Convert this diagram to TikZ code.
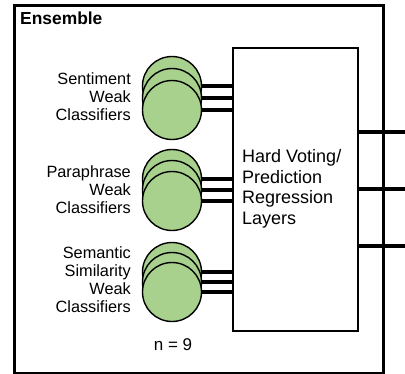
\documentclass[tikz,border=0pt]{standalone}
\usepackage{fontspec}
\setmainfont{Liberation Sans}
\usetikzlibrary{backgrounds,positioning}
\definecolor{leafgreen}{HTML}{A9D18E}
\tikzset{
  clf/.style={draw, circle, line width=1.4pt, fill=leafgreen, minimum size=59pt, inner sep=0pt},
  wire/.style={line width=4.5pt},
  lbl/.style={align=right, anchor=east, inner sep=0pt, font=\fontsize{16.3}{18}\selectfont},
}

\begin{document}
\begin{tikzpicture}[x=1pt,y=-1pt]
      \useasboundingbox (0,0) rectangle (405,373);
      \node[draw, line width=2.5pt, anchor=north west, inner sep=0pt, minimum width=369pt, minimum height=368pt] (ens) at (13,4) {};
      \node[anchor=base west, inner sep=0pt, font=\bfseries\fontsize{17.4}{20}\selectfont] (title) at (20,24) {Ensemble};

      \node[draw, line width=1.5pt, anchor=north west, inner sep=0pt, minimum width=125pt, minimum height=283pt] (box) at (232,47) {};
      \node[anchor=west, align=left, inner sep=0pt, font=\fontsize{18}{20.5}\selectfont] (vote) at (242,189) {Hard Voting/\\Prediction\\Regression\\Layers};

      % sentiment group
      \node[lbl] (senti) at (131,97) {Sentiment\\Weak\\Classifiers};
      \node[clf] (s1) at (172,86) {};
      \node[clf] (s2) at (172,98) {};
      \node[clf] (s3) at (172,110) {};

      % paraphrase group
      \node[lbl] (para) at (131,190) {Paraphrase\\Weak\\Classifiers};
      \node[clf] (p1) at (172,179) {};
      \node[clf] (p2) at (172,190) {};
      \node[clf] (p3) at (172,201) {};

      % similarity group
      \node[lbl] (simi) at (131,280) {Semantic\\Similarity\\Weak\\Classifiers};
      \node[clf] (m1) at (172,272) {};
      \node[clf] (m2) at (172,282) {};
      \node[clf] (m3) at (172,292) {};

      \node[inner sep=0pt, font=\fontsize{17}{18}\selectfont] (n) at (173,345) {n = 9};

      \begin{scope}[on background layer]
        \draw[wire] (s1.center) -- (s1.center -| box.west);
        \draw[wire] (s2.center) -- (s2.center -| box.west);
        \draw[wire] (s3.center) -- (s3.center -| box.west);
        \draw[wire] (p1.center) -- (p1.center -| box.west);
        \draw[wire] (p2.center) -- (p2.center -| box.west);
        \draw[wire] (p3.center) -- (p3.center -| box.west);
        \draw[wire] (m1.center) -- (m1.center -| box.west);
        \draw[wire] (m2.center) -- (m2.center -| box.west);
        \draw[wire] (m3.center) -- (m3.center -| box.west);
      \end{scope}

      \coordinate (out1) at (405,132);
      \coordinate (out2) at (405,189);
      \coordinate (out3) at (405,246);
      \draw[wire] (box.east |- out1) -- (out1);
      \draw[wire] (box.east |- out2) -- (out2);
      \draw[wire] (box.east |- out3) -- (out3);
    \end{tikzpicture}
\end{document}
